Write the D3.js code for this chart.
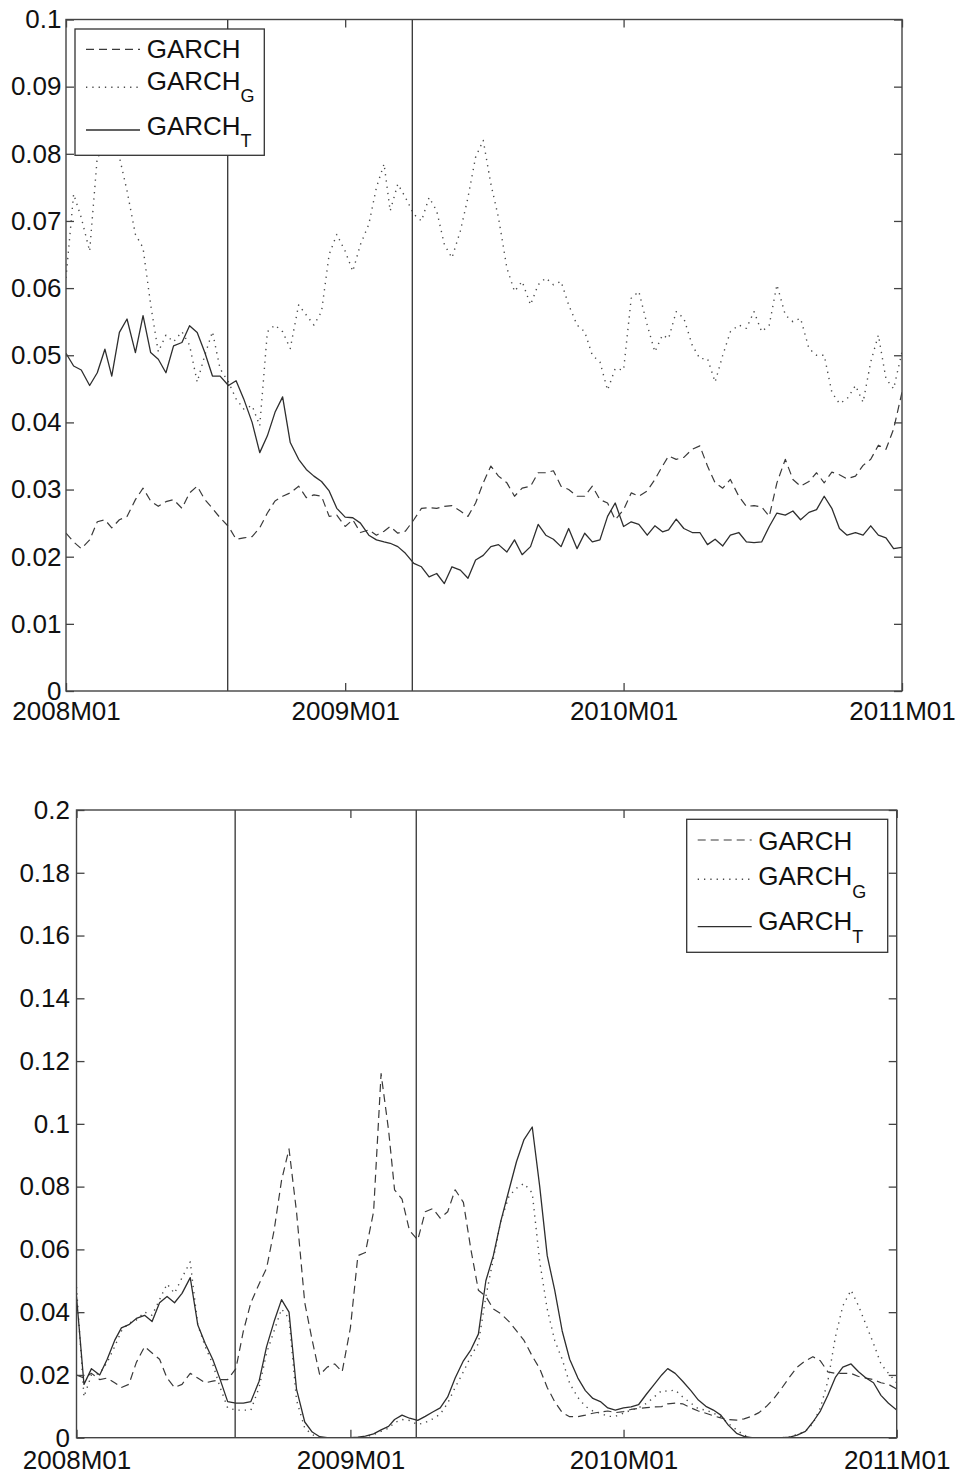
<!DOCTYPE html>
<html><head><meta charset="utf-8">
<script src="https://cdn.jsdelivr.net/npm/d3@7"></script>
<style>
body{margin:0;background:#fff}
svg text{font-family:"Liberation Sans",Arial,Helvetica,sans-serif;fill:#111}
</style>
</head><body>
<svg id="chart" width="958" height="1476"></svg>
<script>
// ---------- data ----------
const dates = [
"2008-01-01","2008-01-11","2008-01-21","2008-02-01","2008-02-11","2008-02-21","2008-03-01","2008-03-11","2008-03-21",
"2008-04-01","2008-04-11","2008-04-21","2008-05-01","2008-05-11","2008-05-21","2008-06-01","2008-06-11","2008-06-21",
"2008-07-01","2008-07-11","2008-07-21","2008-08-01","2008-08-11","2008-08-21","2008-09-01","2008-09-11","2008-09-21",
"2008-10-01","2008-10-11","2008-10-21","2008-11-01","2008-11-11","2008-11-21","2008-12-01","2008-12-11","2008-12-21",
"2009-01-01","2009-01-11","2009-01-21","2009-02-01","2009-02-11","2009-02-21","2009-03-01","2009-03-11","2009-03-21",
"2009-04-01","2009-04-11","2009-04-21","2009-05-01","2009-05-11","2009-05-21","2009-06-01","2009-06-11","2009-06-21",
"2009-07-01","2009-07-11","2009-07-21","2009-08-01","2009-08-11","2009-08-21","2009-09-01","2009-09-11","2009-09-21",
"2009-10-01","2009-10-11","2009-10-21","2009-11-01","2009-11-11","2009-11-21","2009-12-01","2009-12-11","2009-12-21",
"2010-01-01","2010-01-11","2010-01-21","2010-02-01","2010-02-11","2010-02-21","2010-03-01","2010-03-11","2010-03-21",
"2010-04-01","2010-04-11","2010-04-21","2010-05-01","2010-05-11","2010-05-21","2010-06-01","2010-06-11","2010-06-21",
"2010-07-01","2010-07-11","2010-07-21","2010-08-01","2010-08-11","2010-08-21","2010-09-01","2010-09-11","2010-09-21",
"2010-10-01","2010-10-11","2010-10-21","2010-11-01","2010-11-11","2010-11-21","2010-12-01","2010-12-11","2010-12-21",
"2011-01-01"];

// upper panel
const topGarch = [
0.0235,0.0222,0.0212,0.0225,0.0252,0.0255,0.0243,0.0255,0.026,0.0285,0.0302,0.0283,0.0275,0.0282,0.0285,0.0272,0.0295,0.0305,0.0285,0.0272,0.0258,0.0245,0.0226,0.0228,0.023,0.0243,0.0265,0.0283,
0.029,0.0295,0.0305,0.0288,0.0292,0.029,0.026,0.0262,0.0245,0.0255,0.0236,0.024,0.0232,0.0238,0.0245,0.0235,0.0238,0.0255,0.0272,0.0273,0.0272,0.0275,0.0276,0.0268,0.026,0.028,0.031,
0.0335,0.032,0.031,0.029,0.0302,0.0305,0.0325,0.0325,0.0328,0.0305,0.03,0.029,0.029,0.0305,0.0285,0.028,0.0255,0.027,0.0295,0.029,0.0298,0.0315,0.0335,0.035,0.0345,0.0348,0.036,0.0365,
0.0335,0.031,0.0302,0.0315,0.029,0.0275,0.0276,0.0274,0.026,0.031,0.0345,0.0315,0.0305,0.0312,0.0325,0.031,0.0326,0.0322,0.0316,0.032,0.0336,0.0345,0.0366,0.036,0.039,0.0445];
const topGarchG = [
0.0615,0.074,0.0705,0.0655,0.0795,0.0805,0.081,0.0795,0.0745,0.068,0.066,0.0575,0.0505,0.053,0.052,0.0535,0.0515,0.046,0.05,0.0535,0.048,0.046,0.0435,0.042,0.0425,0.0395,0.0535,0.0545,
0.0535,0.051,0.0575,0.056,0.0545,0.0565,0.065,0.068,0.0655,0.0625,0.0665,0.0695,0.075,0.0785,0.0715,0.0755,0.0735,0.071,0.070,0.0735,0.0715,0.0665,0.0645,0.0685,0.0735,0.0795,0.082,
0.0755,0.0705,0.063,0.0595,0.061,0.0575,0.0605,0.0615,0.0605,0.061,0.0575,0.0545,0.0535,0.050,0.049,0.0448,0.048,0.0478,0.0585,0.0595,0.0545,0.0505,0.053,0.0525,0.0565,0.0555,0.0515,0.0495,
0.0495,0.046,0.050,0.0535,0.0545,0.054,0.0565,0.0535,0.0545,0.0605,0.056,0.055,0.0555,0.051,0.050,0.050,0.0445,0.0428,0.0435,0.0455,0.043,0.049,0.053,0.0465,0.045,0.0505];
const topGarchT = [
0.0503,0.0484,0.0478,0.0455,0.0474,0.0509,0.0469,0.0534,0.0554,0.0504,0.0559,0.0504,0.0494,0.0474,0.0514,0.0519,0.0544,0.0534,0.0504,0.0469,0.0469,0.0455,0.0462,0.0435,0.040,0.0355,0.038,0.0415,
0.0438,0.037,0.0345,0.033,0.032,0.0312,0.0298,0.0272,0.0259,0.0258,0.025,0.0232,0.0225,0.0222,0.022,0.0215,0.0205,0.019,0.0185,0.017,0.0175,0.016,0.0185,0.018,0.0168,0.0195,0.0202,
0.0215,0.0218,0.0207,0.0225,0.0203,0.0215,0.0248,0.0232,0.0226,0.0215,0.0242,0.0212,0.0235,0.0222,0.0225,0.026,0.028,0.0245,0.0252,0.0248,0.0232,0.0246,0.0237,0.024,0.0256,0.0242,0.0236,0.0236,
0.0218,0.0226,0.0216,0.0232,0.0236,0.0222,0.0221,0.0222,0.0245,0.0265,0.0262,0.0268,0.0255,0.0266,0.027,0.029,0.0272,0.0242,0.0232,0.0236,0.0232,0.0246,0.0232,0.0228,0.0212,0.0214];

// lower panel
const botGarch = [
0.02,0.019,0.0205,0.0185,0.019,0.0175,0.016,0.017,0.024,0.029,0.027,0.025,0.019,0.016,0.017,0.0205,0.019,0.0175,0.018,0.0185,0.0185,0.022,0.034,0.043,0.049,0.054,0.066,0.082,0.092,0.072,0.043,0.031,0.020,0.0225,0.0235,0.021,
0.035,0.058,0.059,0.072,0.116,0.098,0.079,0.076,0.066,0.063,0.072,0.073,0.070,0.072,0.079,0.075,0.060,0.047,
0.045,0.041,0.0395,0.037,0.034,0.031,0.026,0.022,0.016,0.0115,0.008,0.0067,0.0067,0.0072,0.0078,0.0082,0.0085,0.008,
0.0083,0.009,0.0093,0.0096,0.0098,0.0099,0.0108,0.011,0.0108,0.0095,0.0085,0.0078,0.007,0.0063,0.0058,0.0056,0.006,0.0068,0.008,0.010,0.0125,0.016,0.0194,0.0225,0.0245,0.0258,0.0245,0.021,0.0205,0.0205,0.0205,0.0195,0.019,0.0185,0.0175,0.017,0.0155];
const botGarchG = [
0.048,0.013,0.020,0.0205,0.024,0.029,0.034,0.0365,0.0375,0.040,0.039,0.044,0.049,0.046,0.051,0.056,0.036,0.029,0.0235,0.016,0.0095,0.0088,0.0088,0.0088,0.016,0.027,0.034,0.041,0.038,0.012,0.003,0.001,0,0,0,0,
0,0,0.0003,0.001,0.002,0.003,0.0048,0.0058,0.0055,0.0042,0.0048,0.006,0.0075,0.011,0.016,0.021,0.026,0.030,
0.045,0.057,0.069,0.077,0.0795,0.081,0.078,0.056,0.041,0.031,0.025,0.0173,0.0128,0.010,0.0085,0.0078,0.0068,0.0068,
0.0078,0.0088,0.0095,0.011,0.013,0.015,0.0148,0.0152,0.013,0.011,0.0092,0.0088,0.0078,0.0067,0.0045,0.0025,0.0008,0,0,0,0,0,0.0003,0.001,0.002,0.0045,0.0095,0.018,0.032,0.042,0.047,0.042,0.036,0.030,0.0235,0.0205,0.0175];
const botGarchT = [
0.045,0.017,0.022,0.020,0.025,0.031,0.035,0.036,0.038,0.039,0.037,0.043,0.045,0.043,0.046,0.051,0.036,0.030,0.025,0.0185,0.0115,0.011,0.011,0.0115,0.018,0.029,0.037,0.044,0.040,0.0155,0.005,0.0018,0.0003,0,0,0,
0,0.0002,0.0005,0.0012,0.0025,0.0036,0.0058,0.0072,0.0062,0.0055,0.0068,0.0082,0.0095,0.013,0.019,0.0245,0.028,0.033,
0.050,0.058,0.069,0.079,0.088,0.095,0.099,0.080,0.058,0.047,0.034,0.025,0.019,0.015,0.0125,0.0115,0.0095,0.0088,
0.0095,0.0098,0.0105,0.014,0.017,0.020,0.022,0.0205,0.018,0.015,0.012,0.010,0.0088,0.0072,0.004,0.0014,0.0004,0,0,0,0,0,0.0002,0.0008,0.002,0.005,0.0085,0.0135,0.0192,0.0225,0.0235,0.021,0.019,0.0175,0.0135,0.011,0.0088];

const xTickDates = ["2008-01-01","2009-01-01","2010-01-01","2011-01-01"];
const xTickLabels = ["2008M01","2009M01","2010M01","2011M01"];
const topYTicks = [0,0.01,0.02,0.03,0.04,0.05,0.06,0.07,0.08,0.09,0.1];
const topYLabels = ["0","0.01","0.02","0.03","0.04","0.05","0.06","0.07","0.08","0.09","0.1"];
const botYTicks = [0,0.02,0.04,0.06,0.08,0.1,0.12,0.14,0.16,0.18,0.2];
const botYLabels = ["0","0.02","0.04","0.06","0.08","0.1","0.12","0.14","0.16","0.18","0.2"];
const breakDates = ["2008-07-31","2009-03-30"];
const legendNames = ["GARCH","GARCH","GARCH"];
const legendSubs = ["","G","T"];

// ---------- drawing ----------
const parse = d3.timeParse("%Y-%m-%d");
const svg = d3.select("#chart");
const FS = 26;
const styles = [
  {dash:"8,5", color:"#3a3a3a", width:1.2},
  {dash:"1.3,5", color:"#4a4a4a", width:1.4},
  {dash:null, color:"#2e2e2e", width:1.3}
];

function panel(cfg, idx){
  const x = d3.scaleTime().domain([parse(xTickDates[0]), parse(xTickDates[3])]).range([cfg.left, cfg.right]);
  const y = d3.scaleLinear().domain([0, cfg.yMax]).range([cfg.bottom, cfg.top]);
  const g = svg.append("g");
  const clipId = "clip"+idx;
  g.append("clipPath").attr("id", clipId).append("rect")
    .attr("x", cfg.left).attr("y", cfg.top).attr("width", cfg.right-cfg.left).attr("height", cfg.bottom-cfg.top);

  const line = d3.line().x(d=>x(d[0])).y(d=>y(d[1]));
  const plot = g.append("g").attr("clip-path", `url(#${clipId})`);
  cfg.series.forEach((vals, i) => {
    const pts = dates.map((d, j) => [parse(d), vals[j]]);
    const s = styles[i];
    plot.append("path").datum(pts).attr("d", line)
      .attr("fill","none").attr("stroke", s.color).attr("stroke-width", s.width)
      .attr("stroke-dasharray", s.dash).attr("stroke-linejoin","round");
  });
  breakDates.forEach(bd => {
    g.append("line").attr("x1", x(parse(bd))).attr("x2", x(parse(bd)))
      .attr("y1", cfg.top).attr("y2", cfg.bottom).attr("stroke","#333").attr("stroke-width",1.3);
  });

  const tickVals = xTickDates.map(parse);
  const styleAxis = a => {
    a.select(".domain").remove();
    a.selectAll(".tick line").attr("stroke","#444").attr("stroke-width",1.3);
    a.attr("font-size",FS).attr("font-family",'"Liberation Sans",Arial,sans-serif');
    a.selectAll("text").attr("fill","#111");
  };
  g.append("g").attr("transform",`translate(0,${cfg.bottom})`)
    .call(d3.axisBottom(x).tickValues(tickVals).tickSize(-8).tickPadding(cfg.xPad)
      .tickFormat((d,i)=>xTickLabels[i])).call(styleAxis);
  g.append("g").attr("transform",`translate(0,${cfg.top})`)
    .call(d3.axisTop(x).tickValues(tickVals).tickSize(-8).tickFormat("")).call(styleAxis);
  g.append("g").attr("transform",`translate(${cfg.left},0)`)
    .call(d3.axisLeft(y).tickValues(cfg.yTicks).tickSize(-8).tickPadding(cfg.yPad)
      .tickFormat((d,i)=>cfg.yLabels[i])).call(styleAxis);
  g.append("g").attr("transform",`translate(${cfg.right},0)`)
    .call(d3.axisRight(y).tickValues(cfg.yTicks).tickSize(-8).tickFormat("")).call(styleAxis);

  g.append("rect").attr("x",cfg.left).attr("y",cfg.top)
    .attr("width",cfg.right-cfg.left).attr("height",cfg.bottom-cfg.top)
    .attr("fill","none").attr("stroke","#444").attr("stroke-width",1.4);

  const L = cfg.legend;
  const lg = g.append("g");
  lg.append("rect").attr("x",L.x).attr("y",L.y).attr("width",L.w).attr("height",L.h)
    .attr("fill","#fff").attr("stroke","#333").attr("stroke-width",1.3);
  legendNames.forEach((name,i) => {
    const s = styles[i];
    lg.append("line").attr("x1",L.x+L.s0).attr("x2",L.x+L.s1)
      .attr("y1",L.y+L.sy[i]).attr("y2",L.y+L.sy[i])
      .attr("stroke",s.color).attr("stroke-width",s.width).attr("stroke-dasharray",s.dash);
    const t = lg.append("text").attr("x",L.x+L.tx).attr("y",L.y+L.ty[i])
      .attr("font-size",FS).text(name);
    if (legendSubs[i]) t.append("tspan").attr("dy",L.subDy).attr("font-size",18).text(legendSubs[i]);
  });
}

panel({left:66, right:902, top:19.5, bottom:691, yMax:0.1,
  yTicks:topYTicks, yLabels:topYLabels, xPad:10.5, yPad:4.5,
  series:[topGarch, topGarchG, topGarchT],
  legend:{x:75, y:29, w:189.3, h:126.3, s0:11, s1:65, tx:71.7,
          sy:[20.3,58.3,101], ty:[29.3,61,106], subDy:11.7}}, 0);

panel({left:76.5, right:896.7, top:810, bottom:1437.7, yMax:0.2,
  yTicks:botYTicks, yLabels:botYLabels, xPad:12.8, yPad:6.5,
  series:[botGarch, botGarchG, botGarchT],
  legend:{x:686.7, y:819.3, w:201, h:133, s0:11, s1:65, tx:71.6,
          sy:[20.7,60,107.4], ty:[30.7,65.7,110.7], subDy:13}}, 1);
</script>
</body></html>
